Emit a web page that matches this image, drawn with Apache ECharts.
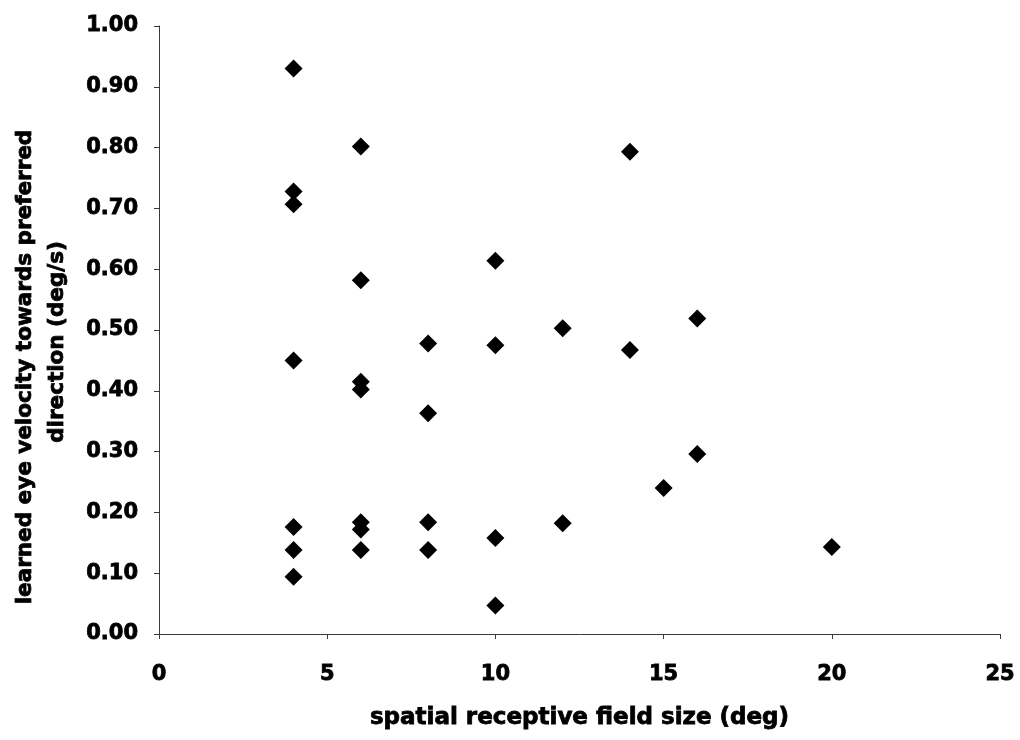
<!DOCTYPE html>
<html>
<head>
<meta charset="utf-8">
<title>Learned eye velocity vs receptive field size</title>
<script src="https://cdn.jsdelivr.net/npm/echarts@6/dist/echarts.min.js"></script>
<style>
  html, body { margin: 0; padding: 0; background: #ffffff; }
  #chart { width: 1020px; height: 740px; }
</style>
</head>
<body>
<div id="chart"></div>
<script>
// Spatial receptive field size (deg) of each cell
const fieldSize = [
  4, 4, 4, 4, 4, 4, 4,
  6, 6, 6, 6, 6, 6, 6,
  8, 8, 8, 8,
  10, 10, 10, 10,
  12, 12,
  14, 14,
  15,
  16, 16,
  20
];
// Learned eye velocity towards the preferred direction (deg/s)
const eyeVelocity = [
  0.93, 0.728, 0.707, 0.45, 0.176, 0.138, 0.094,
  0.802, 0.582, 0.415, 0.402, 0.184, 0.172, 0.138,
  0.478, 0.363, 0.184, 0.138,
  0.614, 0.475, 0.158, 0.047,
  0.503, 0.182,
  0.793, 0.467,
  0.240,
  0.519, 0.296,
  0.143
];
const xTicks = { min: 0, max: 25, step: 5 };
const yTicks = { min: 0, max: 1, step: 0.1 };

const points = fieldSize.map((x, i) => [x, eyeVelocity[i]]);

const FONT = 'DejaVu Sans';
const axisColor = '#3a3a3a';
// heavy black lettering: bold face plus a thin outline of the same colour
const heavy = { fontFamily: FONT, fontWeight: 'bold', color: '#000', textBorderColor: '#000', textBorderWidth: 0.8 };

const chart = echarts.init(document.getElementById('chart'), null, { renderer: 'canvas' });
chart.setOption({
  backgroundColor: '#ffffff',
  animation: false,
  grid: { left: 159, top: 26, width: 841, height: 608, containLabel: false },
  xAxis: {
    type: 'value',
    min: xTicks.min,
    max: xTicks.max,
    interval: xTicks.step,
    name: 'spatial receptive field size (deg)',
    nameLocation: 'middle',
    nameGap: 73,
    nameTextStyle: Object.assign({ fontSize: 23 }, heavy),
    axisLine: { show: true, onZero: false, lineStyle: { color: axisColor, width: 1 } },
    axisTick: { show: true, inside: false, length: 5, lineStyle: { color: axisColor, width: 1 } },
    axisLabel: Object.assign({ margin: 30, fontSize: 21 }, heavy),
    splitLine: { show: false }
  },
  yAxis: {
    type: 'value',
    min: yTicks.min,
    max: yTicks.max,
    interval: yTicks.step,
    name: 'learned eye velocity towards preferred\n{b|direction (deg/s)}',
    nameLocation: 'middle',
    nameRotate: 90,
    nameGap: 86,
    nameTextStyle: Object.assign({
      fontSize: 21.5,
      lineHeight: 32,
      padding: [0, 74, 0, 0],
      rich: {
        b: Object.assign({ fontSize: 21.5, lineHeight: 32, padding: [0, 0, 0, 50] }, heavy)
      }
    }, heavy),
    axisLine: { show: true, onZero: false, lineStyle: { color: axisColor, width: 1 } },
    axisTick: { show: true, inside: false, length: 5, lineStyle: { color: axisColor, width: 1 } },
    axisLabel: Object.assign({
      margin: 21, fontSize: 21,
      formatter: v => v.toFixed(2)
    }, heavy),
    splitLine: { show: false }
  },
  series: [{
    type: 'scatter',
    data: points,
    symbol: 'diamond',
    symbolSize: 18,
    itemStyle: { color: '#000000', opacity: 1 },
    emphasis: { disabled: true }
  }]
});
</script>
</body>
</html>
